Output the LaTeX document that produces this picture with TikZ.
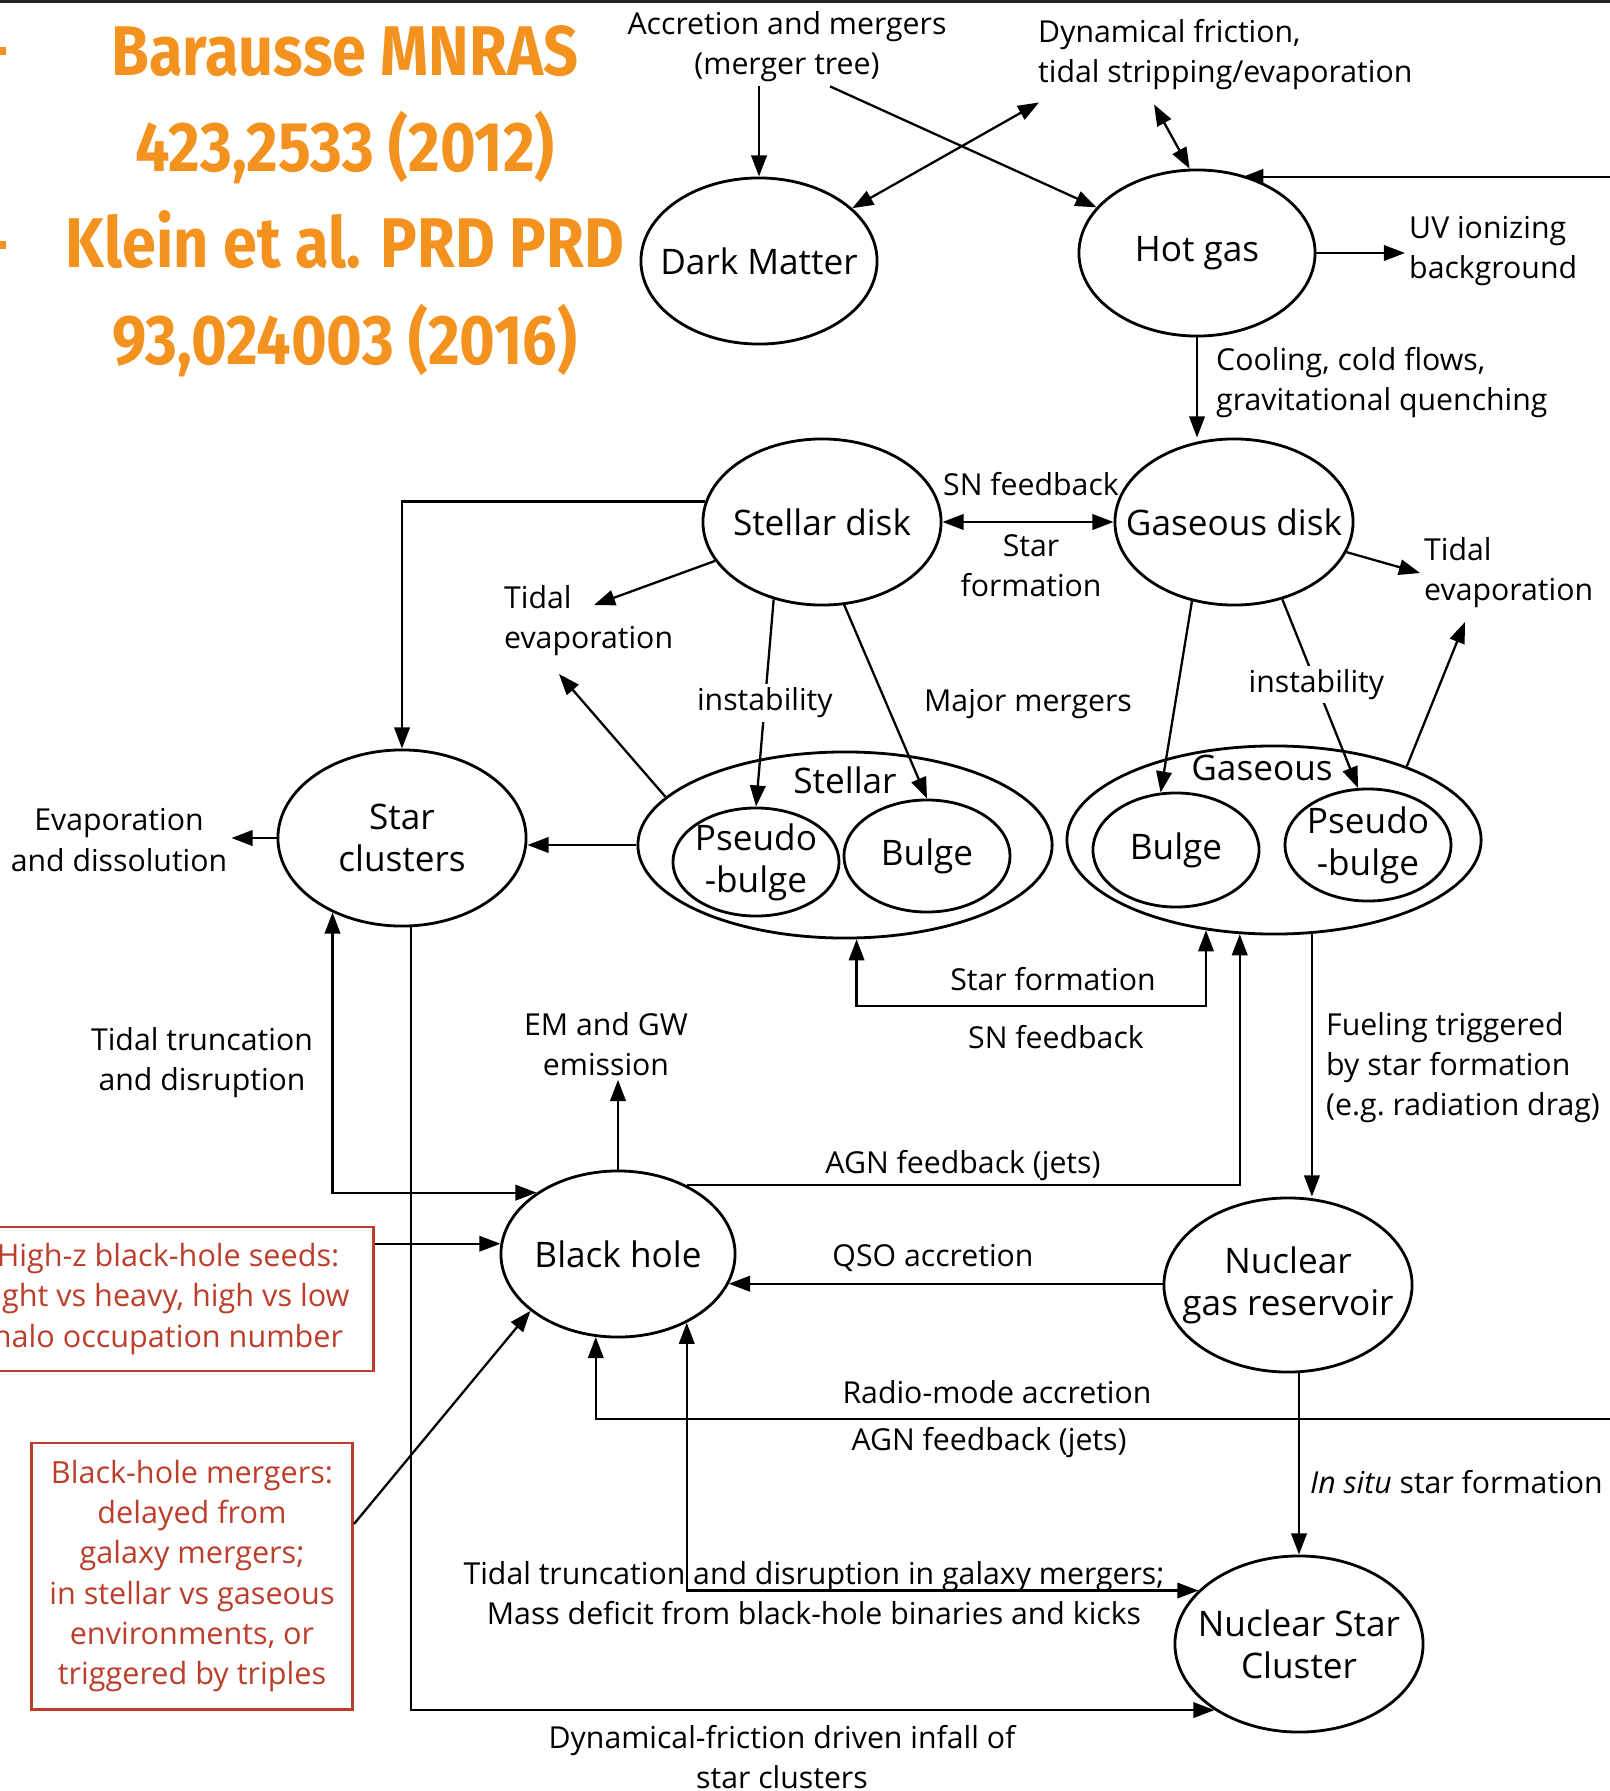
\documentclass[tikz,border=0pt]{standalone}
\usepackage{fontspec}
\setmainfont{Open Sans}
\newfontfamily\citefont{Fira Sans}[FakeStretch=0.87]
\usetikzlibrary{shapes.geometric,arrows.meta}
\definecolor{citeorange}{RGB}{243,146,30}
\definecolor{boxred}{RGB}{188,62,42}

\begin{document}
\begin{tikzpicture}[x=0.01cm,y=-0.01cm,
    >={Triangle[length=6pt,width=4.4pt]},
    blob/.style={draw,ellipse,line width=0.8pt,inner xsep=-3mm,inner ysep=-1mm,
      align=center,font=\fontsize{10}{12}\selectfont},
    lbl/.style={align=center,inner sep=1pt,font=\fontsize{8.6}{11.4}\selectfont},
    conn/.style={line width=0.65pt},
    redbox/.style={draw=boxred,text=boxred,line width=0.8pt,align=center,
      font=\fontsize{8.7}{11.4}\selectfont},
    cite/.style={text=citeorange,anchor=base,font=\citefont\bfseries\fontsize{20}{24}\selectfont}]
    \useasboundingbox (0,0) rectangle (1610,1791);
    \clip (0,0) rectangle (1610,1791);
    \draw[line width=1pt,black!85] (0,1) -- (1610,1);
    % references in the left upper corner
    \draw[citeorange,line width=2pt] (0,51) -- (6,51) (0,245) -- (6,245);
    \node[cite] (ref1) at (345,76) {Barausse MNRAS};
    \node[cite] (ref2) at (345,172) {423,2533 (2012)};
    \node[cite] (ref3) at (345,268) {Klein et al. PRD PRD};
    \node[cite] (ref4) at (345,364) {93,024003 (2016)};
    % halo and hot gas
    \node[blob,minimum width=2.36cm,minimum height=1.66cm] (dm) at (759,261) {Dark Matter};
    \node[blob,minimum width=2.36cm,minimum height=1.66cm] (hot) at (1197,253) {Hot gas};
    \node[lbl] (acc) at (787,47) {Accretion and mergers\\(merger tree)};
    \node[lbl,align=left,anchor=west] (dyn) at (1034,55) {Dynamical friction,\\tidal stripping/evaporation};
    \node[lbl,align=left,anchor=west] (uv) at (1405,251) {UV ionizing\\background};
    \node[lbl,align=left,anchor=west] (cool) at (1212,383) {Cooling, cold flows,\\gravitational quenching};
    % disks
    \node[blob,minimum width=2.38cm,minimum height=1.66cm] (sdisk) at (822,522) {Stellar disk};
    \node[blob,minimum width=2.38cm,minimum height=1.66cm] (gdisk) at (1234,522) {Gaseous disk};
    \node[lbl] (snfb) at (1031,484) {SN feedback};
    \node[lbl] (starf) at (1031,566) {Star\\formation};
    \node[lbl,align=left,anchor=west] (tidl) at (500,621) {Tidal\\evaporation};
    \node[lbl,align=left,anchor=west] (tidr) at (1420,573) {Tidal\\evaporation};
    \node[lbl] (majm) at (1028,704) {Major mergers};
    % bulges
    \node[blob,minimum width=4.14cm,minimum height=1.86cm] (stel) at (845,845) {};
    \node[blob,minimum width=1.66cm,minimum height=1.08cm] (psb1) at (756,862) {Pseudo\\-bulge};
    \node[blob,minimum width=1.66cm,minimum height=1.12cm] (bul1) at (927,856) {Bulge};
    \node[lbl,font=\fontsize{10}{12}\selectfont] (stellab) at (845,780) {Stellar};
    \node[blob,minimum width=4.14cm,minimum height=1.88cm] (gouter) at (1274,840) {};
    \node[blob,minimum width=1.66cm,minimum height=1.14cm] (gbul) at (1176,850) {Bulge};
    \node[blob,minimum width=1.66cm,minimum height=1.12cm] (gpsb) at (1368,845) {Pseudo\\-bulge};
    \node[lbl,font=\fontsize{10}{12}\selectfont] (gaslab) at (1262,768) {Gaseous};
    % star clusters
    \node[blob,minimum width=2.48cm,minimum height=1.76cm] (sclus) at (402,838) {Star\\clusters};
    \node[lbl] (evap) at (119,840) {Evaporation\\and dissolution};
    \node[lbl] (sform) at (1053,979) {Star formation};
    \node[lbl] (snfb2) at (1056,1037) {SN feedback};
    \node[lbl,align=left,anchor=west] (fuel) at (1322,1068) {Fueling triggered\\by star formation\\(e.g.~radiation drag)};
    \node[lbl] (ttd) at (202,1063) {Tidal truncation\\and disruption};
    \node[lbl] (emgw) at (606,1044) {EM and GW\\emission};
    % black hole and nuclear region
    \node[blob,minimum width=2.34cm,minimum height=1.66cm] (bh) at (618,1254) {Black hole};
    \node[blob,minimum width=2.48cm,minimum height=1.74cm] (ngr) at (1288,1285) {Nuclear\\gas reservoir};
    \node[blob,minimum width=2.48cm,minimum height=1.76cm] (nsc) at (1299,1644) {Nuclear Star\\Cluster};
    \node[lbl] (agn1) at (963,1166) {AGN feedback (jets)};
    \node[lbl] (qso) at (933,1258) {QSO accretion};
    \node[lbl] (radio) at (997,1392) {Radio-mode accretion};
    \node[lbl] (agn2) at (989,1443) {AGN feedback (jets)};
    \node[lbl,anchor=west] (insitu) at (1306,1482) {\textit{In situ} star formation};
    \node[lbl] (ttm) at (814,1593) {Tidal truncation and disruption in galaxy mergers;\\Mass deficit from black-hole binaries and kicks};
    \node[lbl] (dfi) at (782,1757) {Dynamical-friction driven infall of\\star clusters};
    % red boxes
    \node[redbox,minimum width=4.1cm,minimum height=1.44cm] (seeds) at (168,1299) {High-z black-hole seeds:\\light vs heavy, high vs low\\halo occupation number};
    \node[redbox,minimum width=3.21cm,minimum height=2.66cm] (bhm) at (192,1576) {Black-hole mergers:\\delayed from\\galaxy mergers;\\in stellar vs gaseous\\environments, or\\triggered by triples};
    \coordinate (rimtop) at (1620,177);
    \coordinate (rimlow) at (1620,1419);
    \coordinate (tidlA) at (594,605);
    \coordinate (tidlB) at (559,674);
    \coordinate (tidrB) at (1465,622);
    % arrows at the top
    \draw[conn,->] (acc.south -| dm.north) -- (dm.north);
    \draw[conn,->] ([xshift=0.43cm]acc.south) -- (hot);
    \draw[conn,<->] ([xshift=0.05cm,yshift=-0.08cm]dyn.south west) -- (dm);
    \draw[conn,<->] ([xshift=1.2cm,yshift=-0.1cm]dyn.south west) -- (hot.95);
    \draw[conn,->] (rimtop) -- (rimtop -| hot.60);
    \draw[conn,->] (hot.east) -- (hot.east -| uv.west);
    \draw[conn,->] (hot.south) -- (hot.south |- gdisk.north);
    % disks to bulges
    \draw[conn,<->] (sdisk.east) -- (gdisk.west);
    \draw[conn,->] (sdisk.170) -| (sclus.north);
    \draw[conn,->] (sdisk.200) -- (tidlA);
    \draw[conn,->] (stel.165) -- (tidlB);
    \draw[conn,->] (sdisk.238) -- node[lbl,fill=white] {instability} (psb1.north);
    \draw[conn,->] (sdisk.285) -- (bul1.north);
    \draw[conn,->] (gdisk.242) -- (gbul.105);
    \draw[conn,->] (gdisk.302) -- node[lbl,fill=white,pos=.45] {instability} (gpsb.100);
    \draw[conn,->] (gdisk.345) -- (tidr.west);
    \draw[conn,->] (gouter.29) -- (tidrB);
    % star clusters
    \draw[conn,->] (stel.west) -- (stel.west -| sclus.east);
    \draw[conn,->] (sclus.west) -- (sclus.west -| evap.east);
    \draw[conn,->] ([xshift=0.09cm]sclus.south) |- (nsc.218);
    \draw[conn,<->] (sclus.227) |- (bh.143);
    \draw[conn,<->] (stel.277) -- ++(0,67) -| (gouter.233);
    % black hole
    \draw[conn,->] (bh.north) -- (bh.north |- emgw.south);
    \draw[conn,->] (bh.45) -| (gouter.250);
    \draw[conn,->] (gouter.292) -- (gouter.292 |- ngr.north);
    \draw[conn,->] (bh.345 -| ngr.west) -- (bh.345);
    \draw[conn,->] (rimlow) -| (bh.255);
    \draw[conn,<->] (bh.315) |- (nsc.152);
    \draw[conn,->] (nsc.north |- ngr.south) -- (nsc.north);
    \draw[conn,->] (bh.175 -| seeds.east) -- (bh.175);
    \draw[conn,->] ([yshift=0.52cm]bhm.east) -- (bh.213);
\end{tikzpicture}
\end{document}
